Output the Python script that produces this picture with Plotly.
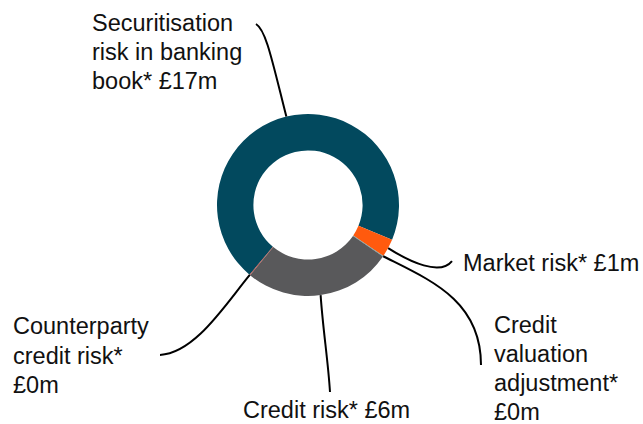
import math
import plotly.graph_objects as go

# ---- data ----
categories = ["Securitisation risk in banking book*", "Market risk*",
              "Credit valuation adjustment*", "Credit risk*",
              "Counterparty credit risk*"]
values = [17.0, 0.78, 0.03, 6.4, 0.03]
label_lines = [
    ["Securitisation", "risk in banking", "book* £17m"],
    ["Market risk* £1m"],
    ["Credit", "valuation", "adjustment*", "£0m"],
    ["Credit risk* £6m"],
    ["Counterparty", "credit risk*", "£0m"],
]
colors = ["#02495e", "#ff5a0e", "#6a9a9a", "#59595b", "#b0403a"]

# ---- layout geometry (pixels) ----
W, H = 643, 424
CX, CY, R = 308, 205, 91
ROTATION = 220  # first slice start, clockwise from 12 o'clock
FS = 23.5

def px(x):
    return x / W

def py(y):
    return 1 - y / H

fig = go.Figure(go.Pie(
    labels=categories, values=values, sort=False, direction="clockwise",
    rotation=ROTATION, hole=0.6, textinfo="none", hoverinfo="label+value",
    marker=dict(colors=colors, line=dict(width=0)), showlegend=False,
    domain=dict(x=[px(CX - R), px(CX + R)], y=[py(CY + R), py(CY - R)]),
))

# slice mid points on outer edge (computed from data)
total = sum(values)
acc = 0.0
mids = []
for v in values:
    mid_cw = ROTATION + (acc + v / 2) / total * 360.0  # clockwise from 12 o'clock
    a = math.radians(90 - mid_cw)
    mids.append((CX + R * math.cos(a), CY - R * math.sin(a)))
    acc += v

# leader line control points and ends (layout)
leaders = [
    [(272, 60), (266, 30), (256, 24)],
    [(410, 262), (440, 276), (452, 261)],
    [(430, 280), (481, 300), (481, 365)],
    [(323, 330), (328, 360), (330, 392)],
    [(225, 305), (195, 353), (160, 355)],
]

shapes = []
for (sx, sy), ctrl in zip(mids, leaders):
    (c1x, c1y), (c2x, c2y), (ex, ey) = ctrl
    path = (f"M {px(sx):.5f},{py(sy):.5f} C {px(c1x):.5f},{py(c1y):.5f} "
            f"{px(c2x):.5f},{py(c2y):.5f} {px(ex):.5f},{py(ey):.5f}")
    shapes.append(dict(type="path", path=path, xref="paper", yref="paper",
                       line=dict(color="black", width=2)))

# label block positions: x, first baseline, line step, anchor
label_pos = [
    (90, 30, 29, "left"),
    (461, 270, 29, "left"),
    (492, 332, 29, "left"),
    (326, 417, 29, "center"),
    (11, 333, 29.5, "left"),
]
annotations = []
for lines, (x, b0, step, anc) in zip(label_lines, label_pos):
    for i, line in enumerate(lines):
        yb = b0 + i * step
        annotations.append(dict(
            text=line, x=px(x), y=py(yb - 0.28 * FS), xref="paper", yref="paper",
            xanchor=anc, yanchor="middle", align=anc, showarrow=False,
            font=dict(family="Liberation Sans, Arial", size=FS, color="#111111")))

fig.update_layout(width=W, height=H, autosize=False,
                  margin=dict(l=0, r=0, t=0, b=0),
                  paper_bgcolor="white", plot_bgcolor="white",
                  shapes=shapes, annotations=annotations)

fig.write_html("out.html", config={"displayModeBar": False},
               post_script="document.body.style.margin='0';")
